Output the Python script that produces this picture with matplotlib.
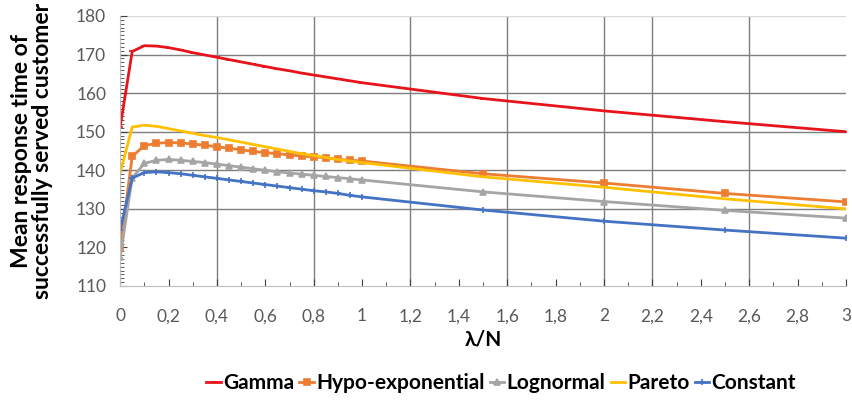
import numpy as np
import matplotlib
matplotlib.use('Agg')
import matplotlib.pyplot as plt
from matplotlib.ticker import MultipleLocator, FuncFormatter

# lambda / N sample points
x = [0, 0.05, 0.1, 0.15, 0.2, 0.25, 0.3, 0.35, 0.4, 0.45, 0.5, 0.55, 0.6,
     0.65, 0.7, 0.75, 0.8, 0.85, 0.9, 0.95, 1.0, 1.5, 2.0, 2.5, 3.0]

gamma = [151.2, 170.8, 172.3, 172.2, 171.8, 171.2, 170.5, 169.9, 169.3, 168.7,
         168.1, 167.5, 166.9, 166.3, 165.8, 165.2, 164.7, 164.2, 163.7, 163.2,
         162.7, 158.6, 155.4, 152.6, 150.0]
hypo = [119.8, 143.6, 146.4, 147.0, 147.2, 147.1, 146.8, 146.5, 146.1, 145.7,
        145.3, 144.9, 144.6, 144.3, 144.0, 143.7, 143.5, 143.2, 142.9, 142.6,
        142.4, 139.1, 136.7, 134.0, 131.8]
lognormal = [117.4, 138.0, 141.8, 142.6, 142.8, 142.6, 142.3, 142.0, 141.6, 141.2,
             140.8, 140.4, 140.0, 139.6, 139.3, 139.0, 138.7, 138.4, 138.1, 137.8,
             137.5, 134.4, 131.9, 129.6, 127.6]
pareto = [139.3, 151.2, 151.7, 151.4, 150.8, 150.2, 149.6, 149.0, 148.5, 147.9,
          147.3, 146.7, 146.1, 145.5, 144.9, 144.3, 143.8, 143.3, 142.8, 142.4,
          142.0, 138.3, 135.6, 132.6, 130.0]
constant = [124.6, 138.0, 139.4, 139.6, 139.4, 139.1, 138.7, 138.3, 137.9, 137.5,
            137.1, 136.7, 136.3, 135.9, 135.5, 135.1, 134.7, 134.4, 134.0, 133.5,
            133.1, 129.7, 126.8, 124.5, 122.4]

series = [
    ('Gamma', gamma, '#E8141C', '_'),
    ('Hypo-exponential', hypo, '#ED7D31', 's'),
    ('Lognormal', lognormal, '#A5A5A5', '^'),
    ('Pareto', pareto, '#FFC000', None),
    ('Constant', constant, '#4472C4', '+'),
]

grid_x = [0.4, 0.8, 1.2, 1.6, 2.0, 2.2, 2.6]
grid_y = [130, 140, 150, 160, 170]

plt.rcParams['font.family'] = ['Lato', 'DejaVu Sans']

fig = plt.figure(figsize=(8.52, 4.0), dpi=100)
ax = fig.add_axes([0.141, 0.285, 0.852, 0.675])

for gx in grid_x:
    ax.axvline(gx, color='#7F7F7F', lw=1.0, zorder=0)
for gy in grid_y:
    ax.axhline(gy, color='#7F7F7F', lw=1.0, zorder=0)
ax.axhline(180, color='#D9D9D9', lw=1.0, zorder=0)

for name, vals, col, mk in series:
    ax.plot(x, vals, color=col, lw=2.0, marker=mk, markersize=5,
            markeredgewidth=1.2, label=name)

ax.set_xlim(0, 3)
ax.set_ylim(110, 180)
ax.xaxis.set_major_locator(MultipleLocator(0.2))
ax.xaxis.set_minor_locator(MultipleLocator(0.1))
ax.yaxis.set_major_locator(MultipleLocator(10))
ax.yaxis.set_minor_locator(MultipleLocator(1))


def comma_fmt(v, pos):
    s = ('%.1f' % v).rstrip('0').rstrip('.')
    return s.replace('.', ',')


ax.xaxis.set_major_formatter(FuncFormatter(comma_fmt))

for sp in ['top', 'right']:
    ax.spines[sp].set_visible(False)
for sp in ['left', 'bottom']:
    ax.spines[sp].set_color('#BFBFBF')

ax.tick_params(axis='both', which='major', labelsize=12.5, labelcolor='#595959',
               color='#404040', length=5, direction='in')
ax.tick_params(axis='both', which='minor', color='#404040', length=3, direction='in')
ax.tick_params(axis='x', pad=16)
ax.tick_params(axis='y', pad=10)

ax.set_xlabel('λ/N', fontsize=15, fontweight='bold', labelpad=4)
ax.set_ylabel('Mean response time of\nsuccessfully served customer',
              fontsize=16.5, fontweight='bold', linespacing=1.0)
ax.yaxis.set_label_coords(-0.092, 0.5)

leg = ax.legend(loc='center', bbox_to_anchor=(0.525, -0.36), ncol=5,
                frameon=False, fontsize=15, handlelength=0.7, handletextpad=0.1,
                columnspacing=0.25, markerscale=0.8)
for t in leg.get_texts():
    t.set_fontweight('bold')

fig.savefig('out.png', dpi=100)
